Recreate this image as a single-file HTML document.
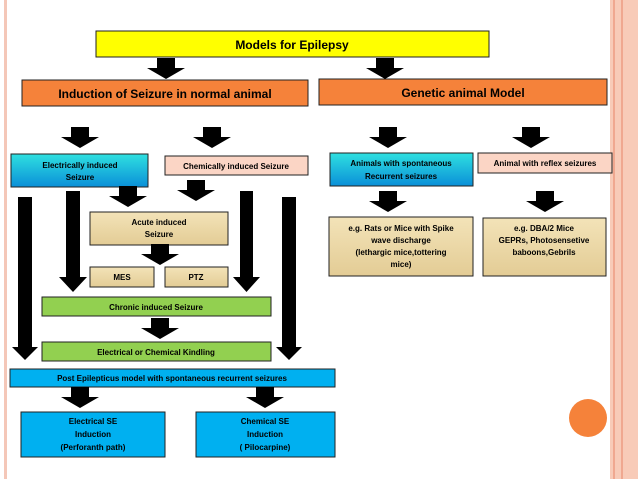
<!DOCTYPE html>
<html><head><style>
body{margin:0;width:638px;height:479px;overflow:hidden;background:#fff;font-family:"Liberation Sans",sans-serif}
</style></head><body>
<svg width="638" height="479" xmlns="http://www.w3.org/2000/svg" font-family="Liberation Sans, sans-serif" font-weight="bold">
<defs>
<linearGradient id="cy" x1="0" y1="0" x2="0" y2="1"><stop offset="0" stop-color="#2fe0e0"/><stop offset="1" stop-color="#0a8fd8"/></linearGradient>
<linearGradient id="tan" x1="0" y1="0" x2="0" y2="1"><stop offset="0" stop-color="#f3e3b8"/><stop offset="1" stop-color="#e3cc95"/></linearGradient>
</defs>
<rect x="4" y="0" width="3" height="479" fill="#f4c7b8"/>
<rect x="610" y="0" width="28" height="479" fill="#f8cbb8"/>
<rect x="613" y="0" width="2" height="479" fill="#f0a890"/>
<rect x="621" y="0" width="2" height="479" fill="#f0a890"/>
<circle cx="588" cy="418" r="19" fill="#f5823a"/>
<g stroke="#222" stroke-width="1">
<rect x="96" y="31" width="393" height="26" fill="#ffff00"/>
<rect x="22" y="80" width="286" height="26" fill="#f5823a"/>
<rect x="319" y="79" width="288" height="26" fill="#f5823a"/>
<rect x="11" y="154" width="137" height="33" fill="url(#cy)"/>
<rect x="165" y="156" width="143" height="19" fill="#fbd5c5"/>
<rect x="330" y="153" width="143" height="33" fill="url(#cy)"/>
<rect x="478" y="153" width="134" height="20" fill="#fbd5c5"/>
<rect x="90" y="212" width="138" height="33" fill="url(#tan)"/>
<rect x="329" y="217" width="144" height="59" fill="url(#tan)"/>
<rect x="483" y="218" width="123" height="58" fill="url(#tan)"/>
<rect x="90" y="267" width="64" height="20" fill="url(#tan)"/>
<rect x="165" y="267" width="63" height="20" fill="url(#tan)"/>
<rect x="42" y="297" width="229" height="19" fill="#92d050"/>
<rect x="42" y="342" width="229" height="19" fill="#92d050"/>
<rect x="10" y="369" width="325" height="18" fill="#00b0f0"/>
<rect x="21" y="412" width="144" height="45" fill="#00b0f0"/>
<rect x="196" y="412" width="139" height="45" fill="#00b0f0"/>
</g>
<g fill="#000">
<path d="M157 58h18v10h10l-19 11l-19-11h10z"/>
<path d="M376 58h18v10h10l-19 11l-19-11h10z"/>
<path d="M71 127h18v10h10l-19 11l-19-11h10z"/>
<path d="M203 127h18v10h10l-19 11l-19-11h10z"/>
<path d="M379 127h18v10h10l-19 11l-19-11h10z"/>
<path d="M522 127h18v10h10l-19 11l-19-11h10z"/>
<path d="M119 186h18v10h10l-19 11l-19-11h10z"/>
<path d="M187 180h18v10h10l-19 11l-19-11h10z"/>
<path d="M379 191h18v10h10l-19 11l-19-11h10z"/>
<path d="M536 191h18v10h10l-19 11l-19-11h10z"/>
<path d="M151 244h18v10h10l-19 11l-19-11h10z"/>
<path d="M151 318h18v10h10l-19 11l-19-11h10z"/>
<path d="M71 387h18v10h10l-19 11l-19-11h10z"/>
<path d="M256 387h18v10h10l-19 11l-19-11h10z"/>
<path d="M18 197h14v150h6l-13 13l-13-13h6z"/>
<path d="M66 191h14v86h7l-14 15l-14-15h7z"/>
<path d="M240 191h13v86h7l-13.5 15l-13.5-15h7z"/>
<path d="M282 197h14v150h6l-13 13l-13-13h6z"/>
</g>
<g fill="#000" text-anchor="middle">
<text x="292" y="49" font-size="12">Models for Epilepsy</text>
<text x="165" y="98" font-size="12">Induction of Seizure in normal animal</text>
<text x="463" y="97" font-size="12">Genetic animal Model</text>
<g font-size="8">
<text x="80" y="168">Electrically induced</text>
<text x="80" y="180">Seizure</text>
<text x="236" y="169">Chemically induced Seizure</text>
<text x="401" y="166">Animals with spontaneous</text>
<text x="401" y="179">Recurrent seizures</text>
<text x="545" y="166">Animal with reflex seizures</text>
<text x="159" y="225">Acute induced</text>
<text x="159" y="237">Seizure</text>
<text x="401" y="231">e.g. Rats or Mice with Spike</text>
<text x="401" y="243">wave discharge</text>
<text x="401" y="255">(lethargic mice,tottering</text>
<text x="401" y="267">mice)</text>
<text x="544" y="231">e.g. DBA/2 Mice</text>
<text x="544" y="243">GEPRs, Photosensetive</text>
<text x="544" y="255">baboons,Gebrils</text>
<text x="122" y="280">MES</text>
<text x="196" y="280">PTZ</text>
<text x="156" y="310">Chronic induced Seizure</text>
<text x="156" y="355">Electrical or Chemical Kindling</text>
<text x="172" y="381">Post Epilepticus model with spontaneous recurrent seizures</text>
<text x="93" y="424">Electrical SE</text>
<text x="93" y="437">Induction</text>
<text x="93" y="450">(Perforanth path)</text>
<text x="265" y="424">Chemical SE</text>
<text x="265" y="437">Induction</text>
<text x="265" y="450">( Pilocarpine)</text>
</g>
</g>
</svg>
</body></html>
